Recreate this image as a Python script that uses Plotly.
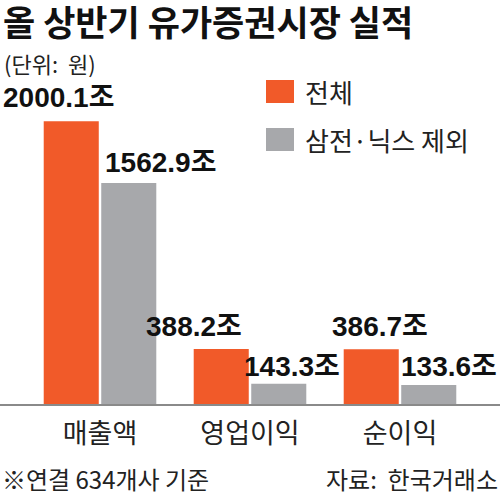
import plotly.graph_objects as go

# Data (unit: trillion won)
categories = ["매출액", "영업이익", "순이익"]
total_vals = [2000.1, 388.2, 386.7]
excl_vals = [1562.9, 143.3, 133.6]
series_names = ["전체", "삼전·닉스 제외"]

title_text = "올 상반기 유가증권시장 실적"
unit_text = "(단위:  원)"
note_text = "※연결 634개사 기준"
source_text = "자료:  한국거래소"

ORANGE = "#F15A29"
GRAY = "#A7A8AB"
KR_FONT = "Noto Sans CJK KR"
NUM_FONT = "Liberation Sans, Noto Sans CJK KR"

W, H = 500, 495
TOP, BOTTOM = 93, 91


def py(y_px):
    """pixel row (from top of page) -> paper y"""
    return (H - BOTTOM - y_px) / (H - TOP - BOTTOM)


def px(x_px):
    return x_px / W


fig = go.Figure()
fig.add_trace(
    go.Bar(x=list(range(len(categories))), y=total_vals, name=series_names[0],
           marker=dict(color=ORANGE, line_width=0))
)
fig.add_trace(
    go.Bar(x=list(range(len(categories))), y=excl_vals, name=series_names[1],
           marker=dict(color=GRAY, line_width=0))
)

# value labels, placed loosely next to their bars like the print graphic
# (xshift, yshift) per series, per category
label_shift = [
    [(-13, 6), (-28, 5), (8, 5)],
    [(32, 3), (13, 0), (20, 1)],
]
annotations = []
for s, vals in enumerate([total_vals, excl_vals]):
    for i, v in enumerate(vals):
        dx, dy = label_shift[s][i]
        annotations.append(dict(
            x=i + (-0.19 if s == 0 else 0.19), y=v, xref="x", yref="y",
            text=f"{v:.1f}조", showarrow=False, xanchor="center",
            yanchor="bottom", xshift=dx, yshift=dy,
            font=dict(family=NUM_FONT, size=28, color="#111111", weight="bold"),
        ))

# title, unit, footers
annotations += [
    dict(x=px(1), y=py(-7), xref="paper", yref="paper", text=title_text,
         showarrow=False, xanchor="left", yanchor="top",
         font=dict(family=KR_FONT, size=35, color="#111111", weight="bold")),
    dict(x=px(2), y=py(45), xref="paper", yref="paper", text=unit_text,
         showarrow=False, xanchor="left", yanchor="top",
         font=dict(family=KR_FONT, size=22, color="#222222")),
    dict(x=px(0), y=py(459), xref="paper", yref="paper", text=note_text,
         showarrow=False, xanchor="left", yanchor="top",
         font=dict(family=KR_FONT, size=24, color="#222222")),
    dict(x=px(500), y=py(459), xref="paper", yref="paper", text=source_text,
         showarrow=False, xanchor="right", yanchor="top",
         font=dict(family=KR_FONT, size=24, color="#222222")),
]

# hand-made legend with large swatches
shapes = []
for k, (name, color) in enumerate(zip(series_names, [ORANGE, GRAY])):
    y0 = 80 + k * 48
    shapes.append(dict(type="rect", xref="paper", yref="paper",
                       x0=px(266), x1=px(294), y0=py(y0 + 23), y1=py(y0),
                       fillcolor=color, line_width=0))
    annotations.append(dict(x=px(303), y=py(y0 + 11.5), xref="paper", yref="paper",
                            text=name, showarrow=False, xanchor="left",
                            yanchor="middle",
                            font=dict(family=KR_FONT, size=26, color="#222222")))

fig.update_layout(
    width=W,
    height=H,
    margin=dict(l=0, r=0, t=TOP, b=BOTTOM),
    paper_bgcolor="white",
    plot_bgcolor="white",
    barmode="group",
    bargap=0.233,
    bargroupgap=0.043,
    showlegend=False,
    annotations=annotations,
    shapes=shapes,
)
fig.update_xaxes(
    range=[-0.6667, 2.6667],
    tickvals=list(range(len(categories))),
    ticktext=categories,
    tickfont=dict(family=KR_FONT, size=27, color="#222222"),
    showline=True,
    linecolor="#8a8a8a",
    linewidth=1.5,
    showgrid=False,
    ticks="",
    ticklabelstandoff=5,
)
fig.update_yaxes(range=[0, 2200], visible=False, showgrid=False, zeroline=False)

# page body has a default 8px margin; drop it so the chart fills the window
fig.write_html(
    "out.html",
    config={"displayModeBar": False},
    post_script="document.body.style.margin='0';",
)
